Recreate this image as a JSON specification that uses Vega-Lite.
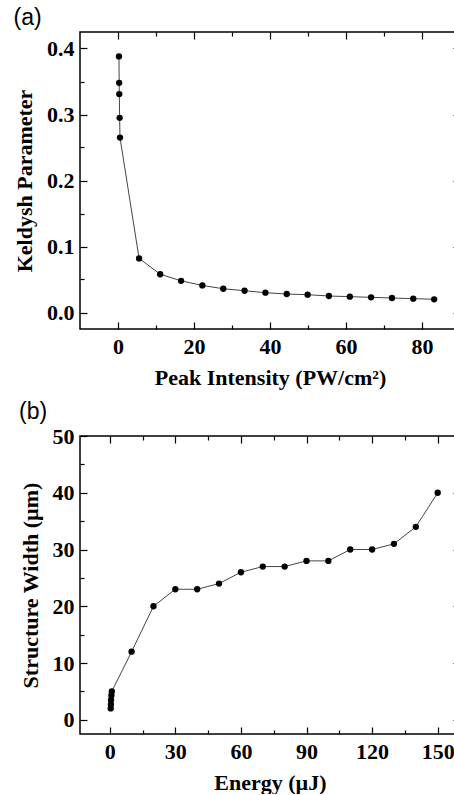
{
 "$schema": "https://vega.github.io/schema/vega-lite/v6.json",
 "padding": {"left": 12, "top": 6, "right": 0, "bottom": 0},
 "background": "white",
 "spacing": 11,
 "config": {
  "view": {"stroke": "black", "strokeWidth": 1.5},
  "axis": {"grid": false, "domain": false, "tickColor": "black", "tickWidth": 1.2,
   "labelFont": "Liberation Serif", "labelFontWeight": "bold", "labelFontSize": 22, "labelColor": "black",
   "titleFont": "Liberation Serif", "titleFontWeight": "bold", "titleFontSize": 22, "titleColor": "black", "titlePadding": 10},
  "title": {"font": "Liberation Sans", "fontSize": 23, "fontWeight": "normal", "color": "black", "anchor": "start", "frame": "bounds", "offset": 1}
 },
 "datasets": {
  "a": [{"I":0.25,"K":0.388},{"I":0.31,"K":0.348},{"I":0.34,"K":0.331},{"I":0.43,"K":0.295},{"I":0.53,"K":0.265},{"I":5.55,"K":0.082},{"I":11.1,"K":0.058},{"I":16.6,"K":0.048},{"I":22.2,"K":0.041},{"I":27.7,"K":0.036},{"I":33.3,"K":0.033},{"I":38.8,"K":0.030},{"I":44.4,"K":0.028},{"I":49.9,"K":0.027},{"I":55.5,"K":0.025},{"I":61.0,"K":0.024},{"I":66.6,"K":0.023},{"I":72.1,"K":0.022},{"I":77.7,"K":0.021},{"I":83.2,"K":0.020}],
  "b": [{"E":0.45,"W":2},{"E":0.55,"W":2.7},{"E":0.6,"W":3.5},{"E":0.77,"W":4.3},{"E":0.95,"W":5},{"E":10,"W":12},{"E":20,"W":20},{"E":30,"W":23},{"E":40,"W":23},{"E":50,"W":24},{"E":60,"W":26},{"E":70,"W":27},{"E":80,"W":27},{"E":90,"W":28},{"E":100,"W":28},{"E":110,"W":30},{"E":120,"W":30},{"E":130,"W":31},{"E":140,"W":34},{"E":150,"W":40}]
 },
 "vconcat": [
  {
   "width": 380, "height": 297,
   "title": {"text": "(a)"},
   "data": {"name": "a"},
   "resolve": {"axis": {"x": "independent", "y": "independent"}},
   "layer": [
    {"mark": {"type": "line", "color": "#444", "strokeWidth": 1},
     "encoding": {
      "x": {"field": "I", "type": "quantitative", "scale": {"domain": [-10, 90], "nice": false, "zero": false},
            "axis": {"orient": "bottom", "values": [0,20,40,60,80], "title": "Peak Intensity (PW/cm²)", "tickSize": -7, "labelPadding": 14}},
      "y": {"field": "K", "type": "quantitative", "scale": {"domain": [-0.025, 0.425], "nice": false, "zero": false},
            "axis": {"orient": "left", "values": [0,0.1,0.2,0.3,0.4], "format": ".1f", "title": "Keldysh Parameter", "tickSize": -7, "labelPadding": 13}}
     }},
    {"mark": {"type": "circle", "color": "black", "size": 40, "opacity": 1},
     "encoding": {"x": {"field": "I", "type": "quantitative", "axis": null}, "y": {"field": "K", "type": "quantitative", "axis": null}}},
    {"mark": {"type": "point", "opacity": 0},
     "encoding": {
      "x": {"field": "I", "type": "quantitative", "axis": {"orient": "top", "values": [0,20,40,60,80], "labels": false, "title": null, "tickSize": -7}},
      "y": {"field": "K", "type": "quantitative", "axis": {"orient": "right", "values": [0,0.1,0.2,0.3,0.4], "labels": false, "title": null, "tickSize": -7}}
     }},
    {"mark": {"type": "point", "opacity": 0},
     "encoding": {
      "x": {"field": "I", "type": "quantitative", "axis": {"orient": "bottom", "values": [10,30,50,70], "labels": false, "title": null, "tickSize": -4}},
      "y": {"field": "K", "type": "quantitative", "axis": {"orient": "left", "values": [0.05,0.15,0.25,0.35], "labels": false, "title": null, "tickSize": -4}}
     }},
    {"mark": {"type": "point", "opacity": 0},
     "encoding": {
      "x": {"field": "I", "type": "quantitative", "axis": {"orient": "top", "values": [10,30,50,70], "labels": false, "title": null, "tickSize": -4}},
      "y": {"field": "K", "type": "quantitative", "axis": {"orient": "right", "values": [0.05,0.15,0.25,0.35], "labels": false, "title": null, "tickSize": -4}}
     }}
   ]
  },
  {
   "width": 380, "height": 298,
   "title": {"text": "(b)"},
   "data": {"name": "b"},
   "resolve": {"axis": {"x": "independent", "y": "independent"}},
   "layer": [
    {"mark": {"type": "line", "color": "#444", "strokeWidth": 1},
     "encoding": {
      "x": {"field": "E", "type": "quantitative", "scale": {"domain": [-13.6, 160.2], "nice": false, "zero": false},
            "axis": {"orient": "bottom", "values": [0,30,60,90,120,150], "title": "Energy (µJ)", "tickSize": -7, "labelPadding": 14}},
      "y": {"field": "W", "type": "quantitative", "scale": {"domain": [-2.5, 50], "nice": false, "zero": false},
            "axis": {"orient": "left", "values": [0,10,20,30,40,50], "title": "Structure Width (µm)", "tickSize": -7, "labelPadding": 13}}
     }},
    {"mark": {"type": "circle", "color": "black", "size": 40, "opacity": 1},
     "encoding": {"x": {"field": "E", "type": "quantitative", "axis": null}, "y": {"field": "W", "type": "quantitative", "axis": null}}},
    {"mark": {"type": "point", "opacity": 0},
     "encoding": {
      "x": {"field": "E", "type": "quantitative", "axis": {"orient": "top", "values": [0,30,60,90,120,150], "labels": false, "title": null, "tickSize": -7}},
      "y": {"field": "W", "type": "quantitative", "axis": {"orient": "right", "values": [0,10,20,30,40,50], "labels": false, "title": null, "tickSize": -7}}
     }},
    {"mark": {"type": "point", "opacity": 0},
     "encoding": {
      "x": {"field": "E", "type": "quantitative", "axis": {"orient": "bottom", "values": [15,45,75,105,135], "labels": false, "title": null, "tickSize": -4}},
      "y": {"field": "W", "type": "quantitative", "axis": {"orient": "left", "values": [5,15,25,35,45], "labels": false, "title": null, "tickSize": -4}}
     }},
    {"mark": {"type": "point", "opacity": 0},
     "encoding": {
      "x": {"field": "E", "type": "quantitative", "axis": {"orient": "top", "values": [15,45,75,105,135], "labels": false, "title": null, "tickSize": -4}},
      "y": {"field": "W", "type": "quantitative", "axis": {"orient": "right", "values": [5,15,25,35,45], "labels": false, "title": null, "tickSize": -4}}
     }}
   ]
  }
 ]
}
